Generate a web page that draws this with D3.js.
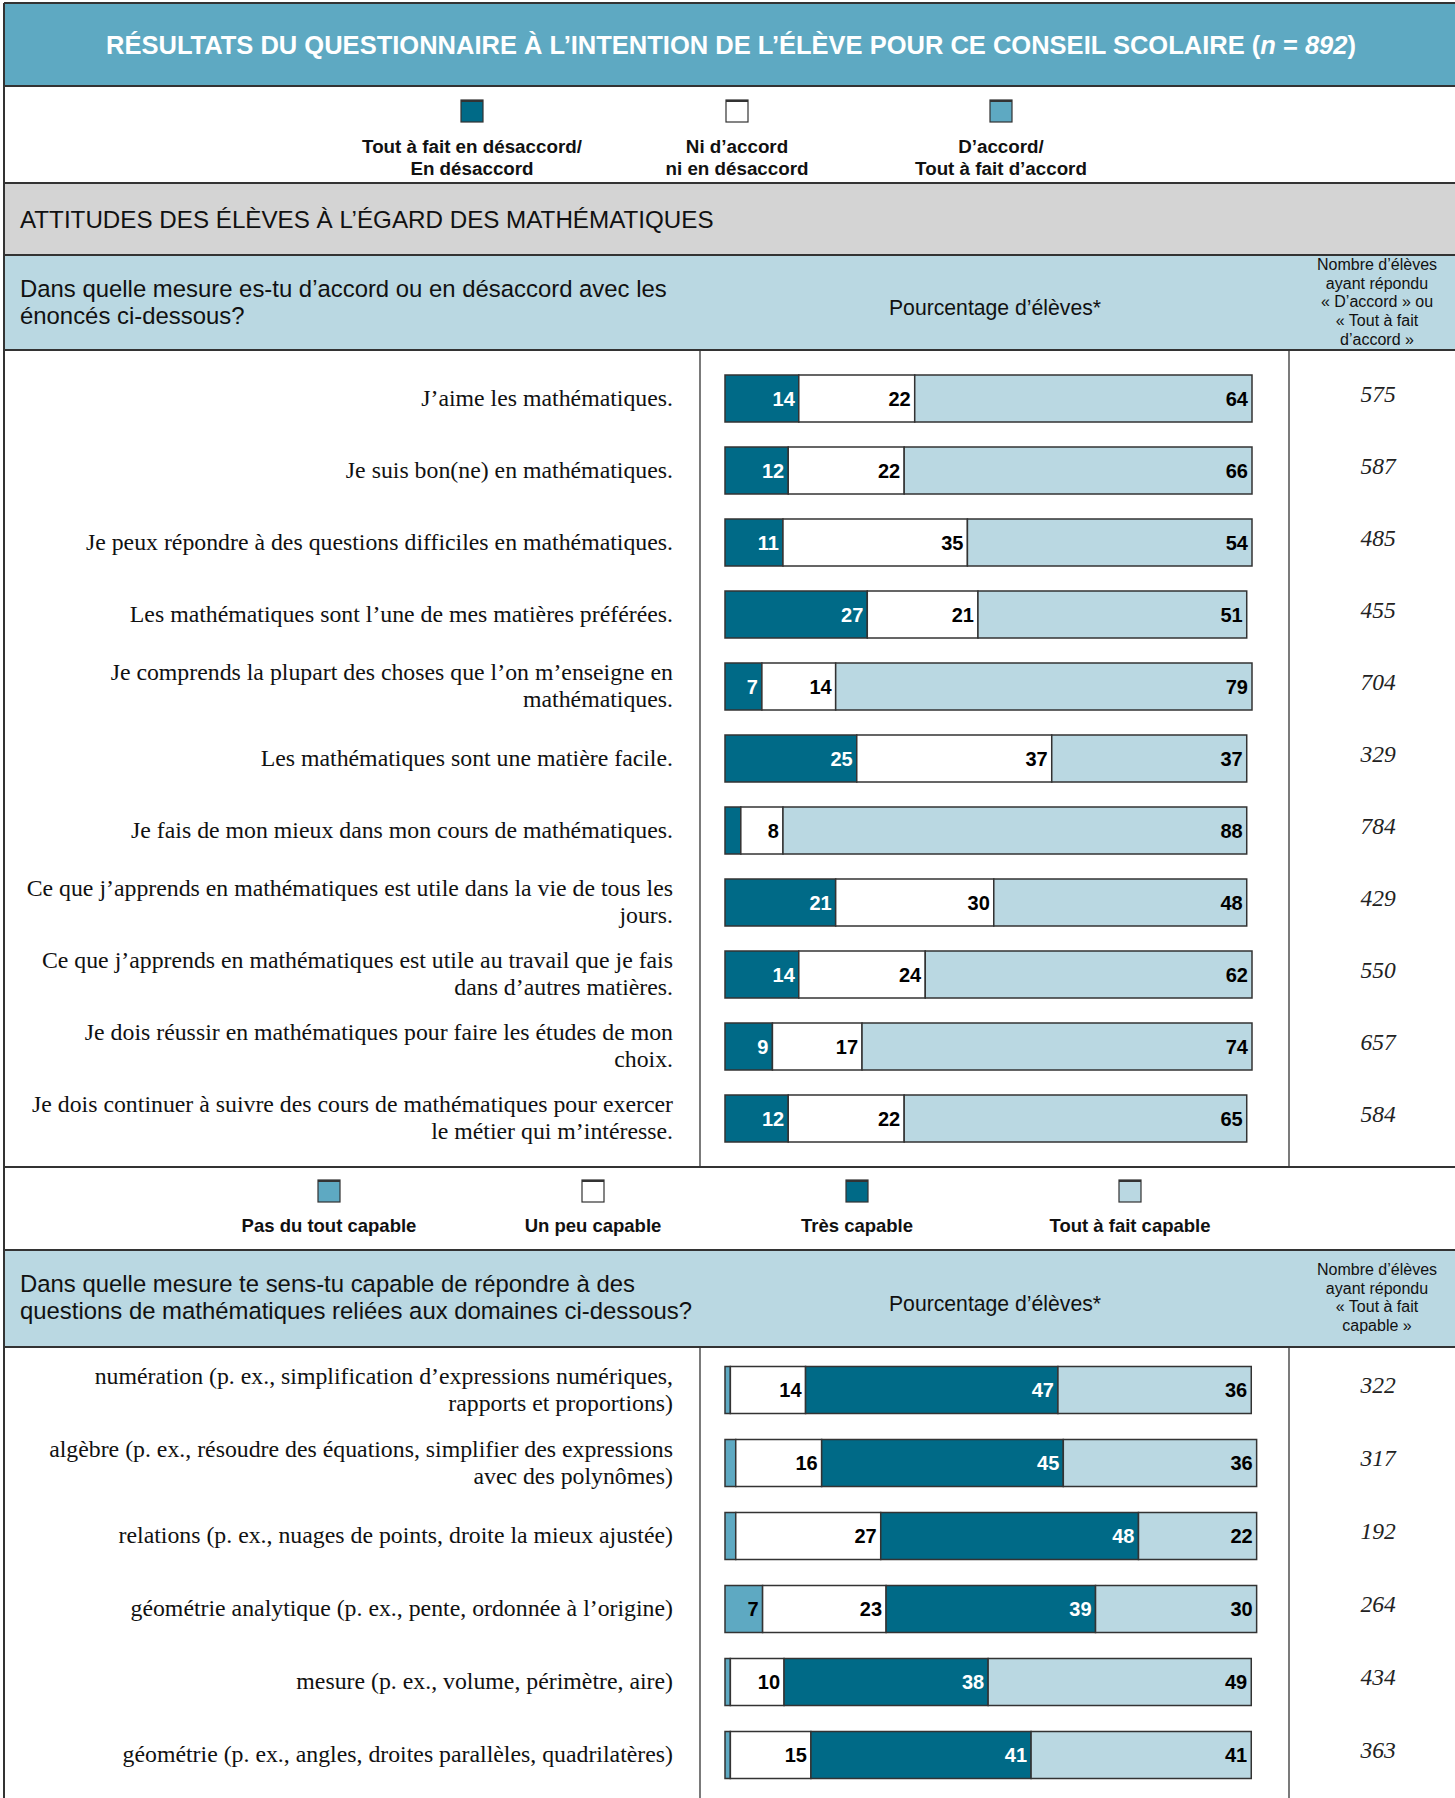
<!DOCTYPE html>
<html>
<head>
<meta charset="utf-8">
<script src="https://cdn.jsdelivr.net/npm/d3@7"></script>
<style>
  body { margin: 0; background: #fff; }
  svg { display: block; }
</style>
</head>
<body>
<svg id="chart"></svg>
<script>
// ---- Attitudes toward mathematics (percent of students) ----
const attitudeItems = [
  "J’aime les mathématiques.",
  "Je suis bon(ne) en mathématiques.",
  "Je peux répondre à des questions difficiles en mathématiques.",
  "Les mathématiques sont l’une de mes matières préférées.",
  "Je comprends la plupart des choses que l’on m’enseigne en\nmathématiques.",
  "Les mathématiques sont une matière facile.",
  "Je fais de mon mieux dans mon cours de mathématiques.",
  "Ce que j’apprends en mathématiques est utile dans la vie de tous les\njours.",
  "Ce que j’apprends en mathématiques est utile au travail que je fais\ndans d’autres matières.",
  "Je dois réussir en mathématiques pour faire les études de mon\nchoix.",
  "Je dois continuer à suivre des cours de mathématiques pour exercer\nle métier qui m’intéresse."
];
const attDisagree = [14, 12, 11, 27, 7, 25, 3, 21, 14, 9, 12];
const attNeutral  = [22, 22, 35, 21, 14, 37, 8, 30, 24, 17, 22];
const attAgree    = [64, 66, 54, 51, 79, 37, 88, 48, 62, 74, 65];
const attAgreeCounts = [575, 587, 485, 455, 704, 329, 784, 429, 550, 657, 584];

// ---- Self-rated ability by math strand (percent of students) ----
const domainItems = [
  "numération (p. ex., simplification d’expressions numériques,\nrapports et proportions)",
  "algèbre (p. ex., résoudre des équations, simplifier des expressions\navec des polynômes)",
  "relations (p. ex., nuages de points, droite la mieux ajustée)",
  "géométrie analytique (p. ex., pente, ordonnée à l’origine)",
  "mesure (p. ex., volume, périmètre, aire)",
  "géométrie (p. ex., angles, droites parallèles, quadrilatères)"
];
const domNotAtAll   = [1, 2, 2, 7, 1, 1];
const domSomewhat   = [14, 16, 27, 23, 10, 15];
const domVery       = [47, 45, 48, 39, 38, 41];
const domCompletely = [36, 36, 22, 30, 49, 41];
const domCompletelyCounts = [322, 317, 192, 264, 434, 363];

// ---- Legend labels ----
const attitudeLegend = ["Tout à fait en désaccord/\nEn désaccord", "Ni d’accord\nni en désaccord", "D’accord/\nTout à fait d’accord"];
const abilityLegend = ["Pas du tout capable", "Un peu capable", "Très capable", "Tout à fait capable"];

// ---- Texts ----
const sectionTitle = "ATTITUDES DES ÉLÈVES À L’ÉGARD DES MATHÉMATIQUES";
const question1 = ["Dans quelle mesure es-tu d’accord ou en désaccord avec les", "énoncés ci-dessous?"];
const question2 = ["Dans quelle mesure te sens-tu capable de répondre à des", "questions de mathématiques reliées aux domaines ci-dessous?"];
const countHead1 = ["Nombre d’élèves", "ayant répondu", "« D’accord » ou", "« Tout à fait", "d’accord »"];
const countHead2 = ["Nombre d’élèves", "ayant répondu", "« Tout à fait", "capable »"];
const percentHead = "Pourcentage d’élèves*";

// ---- Palette ----
const C = {
  header: "#5EA9C2",
  dark: "#006A87",
  mid: "#5EA9C2",
  light: "#BAD8E2",
  white: "#FFFFFF",
  grey: "#D4D4D4",
  line: "#333333"
};

const W = 1455, H = 1798;
const svg = d3.select("#chart").attr("width", W).attr("height", H);
const SANS = "'Liberation Sans', Arial, sans-serif";
const SERIF = "'Liberation Serif', 'Times New Roman', serif";

// ---- Bands of the form ----
const bands = [
  { y0: 3,    y1: 86,   fill: C.header },
  { y0: 86,   y1: 183,  fill: C.white },
  { y0: 183,  y1: 255,  fill: C.grey },
  { y0: 255,  y1: 350,  fill: C.light },
  { y0: 350,  y1: 1167, fill: C.white },
  { y0: 1167, y1: 1250, fill: C.white },
  { y0: 1250, y1: 1347, fill: C.light },
  { y0: 1347, y1: 1800, fill: C.white }
];
svg.selectAll("rect.band").data(bands).join("rect")
  .attr("class", "band")
  .attr("x", 4).attr("y", d => d.y0)
  .attr("width", W).attr("height", d => d.y1 - d.y0)
  .attr("fill", d => d.fill);

// horizontal rules
svg.selectAll("line.rule").data(bands.map(d => d.y0)).join("line")
  .attr("class", "rule")
  .attr("x1", 4).attr("x2", W)
  .attr("y1", d => d).attr("y2", d => d)
  .attr("stroke", C.line).attr("stroke-width", 2);
// left border
svg.append("line").attr("x1", 4).attr("x2", 4).attr("y1", 3).attr("y2", H)
  .attr("stroke", C.line).attr("stroke-width", 2);

// column dividers in the item areas
[[350, 1167], [1347, H]].forEach(([a, b]) => {
  [700, 1289].forEach(x => {
    svg.append("line").attr("x1", x).attr("x2", x).attr("y1", a).attr("y2", b)
      .attr("stroke", C.line).attr("stroke-width", 1.3);
  });
});

// ---- Title ----
const title = svg.append("text")
  .attr("x", 731).attr("y", 54)
  .attr("text-anchor", "middle")
  .attr("font-family", SANS).attr("font-weight", "bold").attr("font-size", 25.5)
  .attr("fill", "#fff");
title.append("tspan").text("RÉSULTATS DU QUESTIONNAIRE À L’INTENTION DE L’ÉLÈVE POUR CE CONSEIL SCOLAIRE (");
title.append("tspan").attr("font-style", "italic").text("n");
title.append("tspan").text(" = ");
title.append("tspan").attr("font-style", "italic").text("892");
title.append("tspan").text(")");

// ---- Legends ----
function drawLegend(labels, fills, xs, ySquare, yText, fontSize) {
  const g = svg.append("g");
  labels.forEach((lab, i) => {
    g.append("rect")
      .attr("x", xs[i] - 11).attr("y", ySquare)
      .attr("width", 22).attr("height", 22)
      .attr("fill", fills[i]).attr("stroke", C.line).attr("stroke-width", 1.2);
    g.append("rect")
      .attr("x", xs[i] - 11).attr("y", ySquare)
      .attr("width", 22).attr("height", 2)
      .attr("fill", C.line);
    const lines = lab.split("\n");
    lines.forEach((ln, j) => {
      g.append("text")
        .attr("x", xs[i]).attr("y", yText + j * 21.5)
        .attr("text-anchor", "middle")
        .attr("font-family", SANS).attr("font-weight", "bold").attr("font-size", fontSize)
        .attr("fill", "#111")
        .text(ln);
    });
  });
}
drawLegend(attitudeLegend, [C.dark, C.white, C.mid], [472, 737, 1001], 100, 153, 18.8);
drawLegend(abilityLegend, [C.mid, C.white, C.dark, C.light], [329, 593, 857, 1130], 1180, 1232, 18.5);

// ---- Section heading ----
svg.append("text")
  .attr("x", 20).attr("y", 228)
  .attr("font-family", SANS).attr("font-size", 24.2).attr("fill", "#111")
  .text(sectionTitle);

// ---- Question headers ----
function drawQuestionHeader(qLines, qY, pctY, countLines, countY) {
  qLines.forEach((ln, j) => {
    svg.append("text")
      .attr("x", 20).attr("y", qY + j * 27)
      .attr("font-family", SANS).attr("font-size", 23.9).attr("fill", "#111")
      .text(ln);
  });
  svg.append("text")
    .attr("x", 995).attr("y", pctY)
    .attr("text-anchor", "middle")
    .attr("font-family", SANS).attr("font-size", 21.2).attr("fill", "#111")
    .text(percentHead);
  countLines.forEach((ln, j) => {
    svg.append("text")
      .attr("x", 1377).attr("y", countY + j * 18.7)
      .attr("text-anchor", "middle")
      .attr("font-family", SANS).attr("font-size", 16).attr("fill", "#111")
      .text(ln);
  });
}
drawQuestionHeader(question1, 297, 315, countHead1, 270);
drawQuestionHeader(question2, 1292, 1311, countHead2, 1275);

// ---- Stacked bar panels ----
function drawPanel(items, keys, series, fills, labelFills, counts, yRange, xRange) {
  const rows = items.map((item, i) => {
    const r = { item, count: counts[i] };
    keys.forEach((k, j) => r[k] = series[j][i]);
    return r;
  });
  const y = d3.scalePoint().domain(items).range(yRange);
  const x = d3.scaleLinear().domain([0, 100]).range(xRange);
  const stacked = d3.stack().keys(keys)(rows);
  const barH = 47;

  const g = svg.append("g");
  const layers = g.selectAll("g.layer").data(stacked).join("g").attr("class", "layer");

  layers.selectAll("rect").data(d => d.map(s => ({ s, key: d.key }))).join("rect")
    .attr("x", d => x(d.s[0]))
    .attr("y", d => y(d.s.data.item) - barH / 2)
    .attr("width", d => x(d.s[1]) - x(d.s[0]))
    .attr("height", barH)
    .attr("fill", d => fills[keys.indexOf(d.key)])
    .attr("stroke", C.line).attr("stroke-width", 1.5);

  layers.selectAll("text").data(d => d.map(s => ({ s, key: d.key })).filter(d => d.s.data[d.key] >= 5)).join("text")
    .attr("x", d => x(d.s[1]) - 4)
    .attr("y", d => y(d.s.data.item) + 7)
    .attr("text-anchor", "end")
    .attr("font-family", SANS).attr("font-weight", "bold").attr("font-size", 20)
    .attr("fill", d => labelFills[keys.indexOf(d.key)])
    .text(d => d.s.data[d.key]);

  // item statements
  rows.forEach(r => {
    const lines = r.item.split("\n");
    const cy = y(r.item);
    lines.forEach((ln, j) => {
      g.append("text")
        .attr("x", 673)
        .attr("y", cy + 7 + (j - (lines.length - 1) / 2) * 27)
        .attr("text-anchor", "end")
        .attr("font-family", SERIF).attr("font-size", 23.8).attr("fill", "#111")
        .text(ln);
    });
    g.append("text")
      .attr("x", 1378).attr("y", cy + 3)
      .attr("text-anchor", "middle")
      .attr("font-family", SERIF).attr("font-style", "italic").attr("font-size", 23.5).attr("fill", "#222")
      .text(r.count);
  });
}

drawPanel(attitudeItems,
  ["disagree", "neutral", "agree"],
  [attDisagree, attNeutral, attAgree],
  [C.dark, C.white, C.light],
  ["#fff", "#000", "#000"],
  attAgreeCounts, [398.5, 1118.5], [725, 1252]);

drawPanel(domainItems,
  ["notAtAll", "somewhat", "very", "completely"],
  [domNotAtAll, domSomewhat, domVery, domCompletely],
  [C.mid, C.white, C.dark, C.light],
  ["#000", "#000", "#fff", "#000"],
  domCompletelyCounts, [1390, 1755], [725, 1262]);
</script>
</body>
</html>
